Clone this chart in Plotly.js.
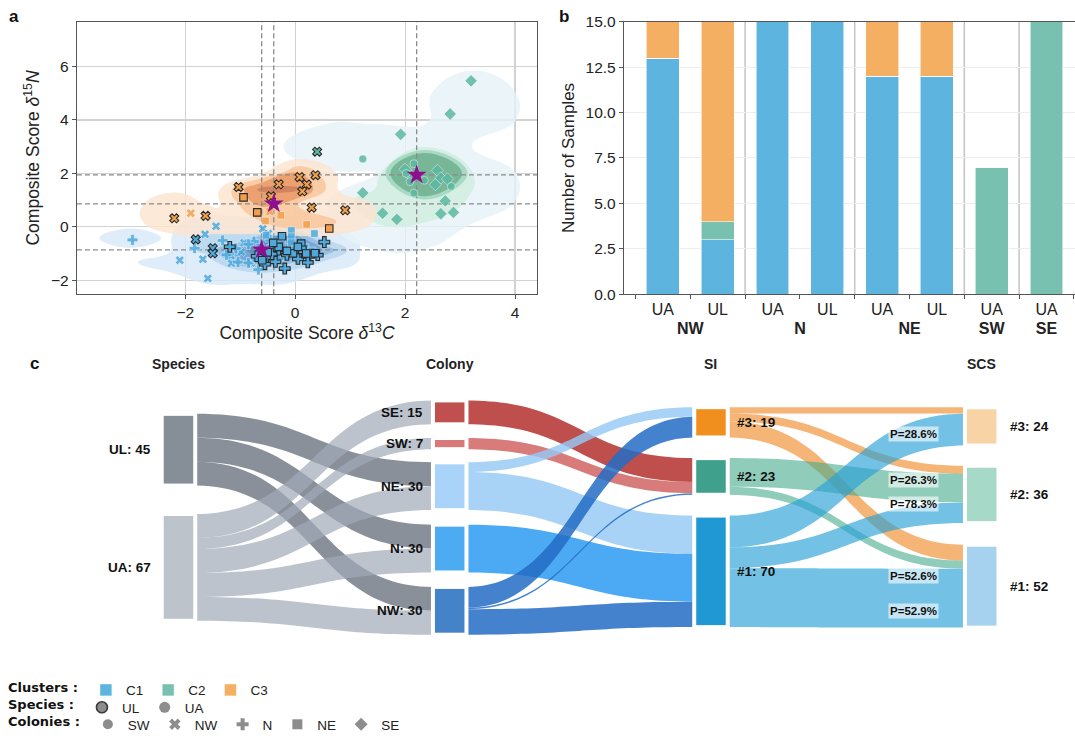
<!DOCTYPE html>
<html><head><meta charset="utf-8">
<script src="https://cdn.plot.ly/plotly-3.0.1.min.js"></script>
<style>html,body{margin:0;padding:0;background:#fff}#chart{width:1075px;height:740px}</style>
</head><body><div id="chart"></div>
<script>
// ================= DATA =================
// ---- Panel a: composite scores per colony & species (x = d13C, y = d15N), cluster of each point
const SE_UA_x = [3.2, 2.82, 1.92, 1.23, 1.59, 1.85, 2.65, 2.88, 2.73, 2.55, 2.59, 2.65, 2.77, 2.0, 2.12];
const SE_UA_y = [5.46, 4.22, 3.46, 1.27, 0.51, 0.28, 0.49, 0.54, 0.97, 1.58, 2.11, 1.83, 1.79, 2.15, 1.88];
const SE_UA_c = ['C2','C2','C2','C2','C2','C2','C2','C2','C2','C2','C2','C2','C2','C2','C2'];

const SW_UA_x = [1.23, 2.16, 2.35, 2.16, 2.84, 2.09, 2.02];
const SW_UA_y = [2.54, 2.36, 1.74, 1.26, 1.51, 1.69, 2.0];
const SW_UA_c = ['C2','C2','C2','C2','C2','C2','C2'];

const NW_UA_x = [-1.44, -1.64, -2.1, -1.68, -1.16, -1.17, -1.59, -0.98, -0.93, -0.59, -0.49, -0.8, -0.65, -1.9, -0.46];
const NW_UA_y = [0.02, -0.28, -1.25, -1.21, -1.36, -1.08, -1.93, -0.94, -0.6, -0.07, -0.25, -1.35, -0.72, 0.51, 0.57];
const NW_UA_c = ['C1','C1','C1','C1','C1','C1','C1','C1','C1','C1','C1','C1','C1','C3','C3'];

const NW_UL_x = [-1.81, -1.5, -1.5, 0.4, -2.2, -1.63, -1.03, -0.44, -0.3, 0.08, 0.37, 0.21, 0.13, 0.3, 0.91];
const NW_UL_y = [-0.47, -0.8, -0.99, 2.81, 0.32, 0.41, 1.49, 1.14, 1.59, 1.86, 1.93, 1.58, 1.33, 0.72, 0.62];
const NW_UL_c = ['C1','C1','C1','C2','C3','C3','C3','C3','C3','C3','C3','C3','C3','C3','C3'];

const N_UA_x = [-2.96, -1.32, -1.83, -1.04, -0.85, -1.08, -0.67, -0.75, -0.6, -0.85, -0.35, -0.3, -0.45, -0.2, -1.25];
const N_UA_y = [-0.49, -0.51, -0.8, -1.32, -1.35, -0.81, -1.6, -0.55, -0.85, -0.65, -0.95, -1.2, -0.5, -0.7, -1.05];
const N_UA_c = ['C1','C1','C1','C1','C1','C1','C1','C1','C1','C1','C1','C1','C1','C1','C1'];

const N_UL_x = [-1.19, -0.52, -0.36, -0.55, -0.19, -0.42, 0.25, 0.23, 0.41, 0.53, -0.3, -0.15, 0.05, -0.7, 0.15];
const N_UL_y = [-0.75, -1.15, -1.31, -1.4, -1.56, -1.02, -1.11, -1.33, -1.06, -0.57, -0.85, -1.05, -1.2, -1.1, -0.95];
const N_UL_c = ['C1','C1','C1','C1','C1','C1','C1','C1','C1','C1','C1','C1','C1','C1','C1'];

const NE_UA_x = [-0.53, -0.07, -0.07, -0.07, 0.18, 0.35, -0.72, -0.35, -0.25, 0.0, -0.45, 0.3, -0.54, -0.26, 0.21];
const NE_UA_y = [-0.32, -0.14, -0.37, -0.59, -0.78, -0.25, -1.19, -0.45, -0.65, -0.85, -0.8, -0.9, 0.22, 0.43, 0.09];
const NE_UA_c = ['C1','C1','C1','C1','C1','C1','C1','C1','C1','C1','C1','C1','C3','C3','C3'];

const NE_UL_x = [-0.24, 0.11, -0.04, 0.13, 0.36, -0.5, -0.3, -0.15, 0.2, -0.4, 0.05, -0.6, -0.94, -0.69, 0.62];
const NE_UL_y = [-0.35, -0.63, -0.99, -0.86, -0.99, -0.95, -0.75, -0.9, -1.0, -0.6, -0.75, -1.25, 1.1, 0.54, -0.06];
const NE_UL_c = ['C1','C1','C1','C1','C1','C1','C1','C1','C1','C1','C1','C1','C3','C3','C3'];

// cluster centroids (stars)
const centroidCluster = ['C1', 'C3', 'C2'];
const centroidX = [-0.61, -0.39, 2.21];
const centroidY = [-0.86, 0.86, 1.94];

// ---- Panel b: counts per colony/species and cluster
const barColony  = ['NW', 'NW', 'N', 'N', 'NE', 'NE', 'SW', 'SE'];
const barSpecies = ['UA', 'UL', 'UA', 'UL', 'UA', 'UL', 'UA', 'UA'];
const countC1 = [13, 3, 15, 15, 12, 12, 0, 0];
const countC2 = [0, 1, 0, 0, 0, 0, 7, 15];
const countC3 = [2, 11, 0, 0, 3, 3, 0, 0];

// ---- Panel c: sankey
const speciesNames = ['UL', 'UA'];
const colonyNames  = ['SE', 'SW', 'NE', 'N', 'NW'];
const siNames      = ['#3', '#2', '#1'];
const scsNames     = ['#3', '#2', '#1'];
const spColSource = ['UL', 'UL', 'UL', 'UA', 'UA', 'UA', 'UA', 'UA'];
const spColTarget = ['NE', 'N', 'NW', 'SE', 'SW', 'NE', 'N', 'NW'];
const spColValue  = [15, 15, 15, 15, 7, 15, 15, 15];
const colSiSource = ['SE', 'SW', 'NE', 'NE', 'N', 'NW', 'NW', 'NW'];
const colSiTarget = ['#2', '#2', '#3', '#1', '#1', '#3', '#2', '#1'];
const colSiValue  = [15, 7, 6, 24, 30, 13, 1, 16];
const siScsSource = ['#3', '#3', '#3', '#2', '#2', '#1', '#1', '#1'];
const siScsTarget = ['#3', '#2', '#1', '#2', '#1', '#3', '#2', '#1'];
const siScsValue  = [4, 5, 10, 18, 5, 20, 13, 37];
const siScsShowP  = [false, true, true, true, false, true, false, true];

// ================= STYLE =================
const FONT = 'Liberation Sans, Arial, sans-serif';
const barColor = {C1: '#5db4df', C2: '#78c0b0', C3: '#f4af62'};
const ptColor  = {C1: '#4ea9dd', C2: '#5cb8a1', C3: '#f2a04e'};
const symbolOf = {SE: 'diamond', SW: 'circle', NW: 'x', N: 'cross', NE: 'square'};
const sizeOf   = {SE: 9.5, SW: 8, NW: 8, N: 9, NE: 7.5};
const xRangeA = [-3.97, 4.4], yRangeA = [-2.52, 7.67];

const traces = [];

// ---- density contours (computed by plotly's histogram2dcontour)
const groups = [
  {col: 'SE', sp: 'UA', x: SE_UA_x, y: SE_UA_y, c: SE_UA_c},
  {col: 'SW', sp: 'UA', x: SW_UA_x, y: SW_UA_y, c: SW_UA_c},
  {col: 'NW', sp: 'UA', x: NW_UA_x, y: NW_UA_y, c: NW_UA_c},
  {col: 'NW', sp: 'UL', x: NW_UL_x, y: NW_UL_y, c: NW_UL_c},
  {col: 'N',  sp: 'UA', x: N_UA_x,  y: N_UA_y,  c: N_UA_c},
  {col: 'N',  sp: 'UL', x: N_UL_x,  y: N_UL_y,  c: N_UL_c},
  {col: 'NE', sp: 'UA', x: NE_UA_x, y: NE_UA_y, c: NE_UA_c},
  {col: 'NE', sp: 'UL', x: NE_UL_x, y: NE_UL_y, c: NE_UL_c}
];
function clusterPts(cl) {
  const xs = [], ys = [];
  groups.forEach(g => g.c.forEach((c, i) => { if (c === cl) { xs.push(g.x[i]); ys.push(g.y[i]); } }));
  return {xs, ys};
}
const kdeCfg = {
  C1: {xb: {start: -4.05, end: 1.9, size: 0.7}, yb: {start: -2.9, end: 1.1, size: 0.45},
       ct: {start: 0.2, end: 8.2, size: 2},
       cs: ['rgba(220,235,248,0)', 'rgba(214,232,248,0.8)', 'rgba(180,212,238,0.8)', 'rgba(140,186,226,0.8)', 'rgba(110,160,212,0.8)', 'rgba(85,138,196,0.82)']},
  C2: {xb: {start: -0.8, end: 5.2, size: 0.9}, yb: {start: -1.5, end: 7.5, size: 1.0},
       ct: {start: 0.15, end: 3.15, size: 1.0},
       cs: ['rgba(232,243,248,0)', 'rgba(230,243,247,0.8)', 'rgba(210,237,226,0.85)', 'rgba(160,213,190,0.85)', 'rgba(110,175,142,0.85)']},
  C3: {xb: {start: -3.3, end: 2.7, size: 0.75}, yb: {start: -1.3, end: 3.1, size: 0.6},
       ct: {start: 0.2, end: 2.9, size: 0.9},
       cs: ['rgba(253,232,212,0)', 'rgba(252,228,206,0.8)', 'rgba(248,196,152,0.8)', 'rgba(234,150,100,0.8)', 'rgba(205,125,92,0.82)']}
};
['C1', 'C2', 'C3'].forEach(cl => {
  const p = clusterPts(cl), k = kdeCfg[cl];
  const n = k.cs.length;
  traces.push({
    type: 'histogram2dcontour', x: p.xs, y: p.ys, xaxis: 'x', yaxis: 'y',
    xbins: k.xb, ybins: k.yb, autobinx: false, autobiny: false,
    autocontour: false, contours: {start: k.ct.start, end: k.ct.end, size: k.ct.size, coloring: 'fill'},
    colorscale: k.cs.map((c, i) => [i / (n - 1), c]),
    line: {width: 0, smoothing: 1.3}, showscale: false, hoverinfo: 'skip', showlegend: false
  });
});

// ---- centroid dashed guide lines
centroidX.forEach(cx => traces.push({type: 'scatter', mode: 'lines', x: [cx, cx], y: yRangeA,
  line: {color: '#8a8a8a', width: 1.3, dash: '5px,3px'}, hoverinfo: 'skip', showlegend: false, xaxis: 'x', yaxis: 'y'}));
centroidY.forEach(cy => traces.push({type: 'scatter', mode: 'lines', x: xRangeA, y: [cy, cy],
  line: {color: '#8a8a8a', width: 1.3, dash: '5px,3px'}, hoverinfo: 'skip', showlegend: false, xaxis: 'x', yaxis: 'y'}));

// ---- points (UA first, UL on top)
const orderedGroups = groups.filter(g => g.sp === 'UA').concat(groups.filter(g => g.sp === 'UL'));
orderedGroups.forEach(g => {
  const ul = g.sp === 'UL';
  traces.push({
    type: 'scatter', mode: 'markers', x: g.x, y: g.y, xaxis: 'x', yaxis: 'y',
    marker: {symbol: symbolOf[g.col], size: sizeOf[g.col], color: g.c.map(c => ptColor[c]),
      opacity: ul ? 1 : 0.85,
      line: {color: ul ? '#2a2a2a' : 'rgba(255,255,255,0.65)', width: ul ? 1.1 : 0.8}},
    hoverinfo: 'skip', showlegend: false
  });
});
// stars
traces.push({type: 'scatter', mode: 'markers', x: centroidX, y: centroidY, xaxis: 'x', yaxis: 'y',
  marker: {symbol: 'star', size: 15, color: '#8e0f8e', line: {width: 0}}, hoverinfo: 'skip', showlegend: false});

// ---- panel b stacked bars (also the "Clusters" legend)
const xCat = [barColony.map(c => '<b>' + c + '</b>'), barSpecies];
[['C1', countC1], ['C2', countC2], ['C3', countC3]].forEach(([cl, v]) => traces.push({
  type: 'bar', x: xCat, y: v, name: cl, xaxis: 'x2', yaxis: 'y2',
  marker: {color: barColor[cl], line: {color: 'rgba(255,255,255,0.7)', width: 0.8}},
  legend: 'legend', hoverinfo: 'skip'
}));

// ---- legend keys for species & colonies
[['UL', true], ['UA', false]].forEach(([s, edge]) => traces.push({
  type: 'scatter', mode: 'markers', x: [null], y: [null], name: s, legend: 'legend2', xaxis: 'x', yaxis: 'y',
  marker: {symbol: 'circle', size: 11, color: '#8d8d8d', line: {color: edge ? '#3a3a3a' : '#8d8d8d', width: edge ? 1.6 : 0}}
}));
['SW', 'NW', 'N', 'NE', 'SE'].forEach(c => traces.push({
  type: 'scatter', mode: 'markers', x: [null], y: [null], name: c, legend: 'legend3', xaxis: 'x', yaxis: 'y',
  marker: {symbol: symbolOf[c], size: 10, color: '#8d8d8d', line: {width: 0}}
}));

// ---- panel c sankey
const allNames = speciesNames.map(n => 'sp:' + n)
  .concat(colonyNames.map(n => 'col:' + n), siNames.map(n => 'si:' + n), scsNames.map(n => 'scs:' + n));
const idx = n => allNames.indexOf(n);
const nodeColor = ['#868e97', '#bcc3cb',
  '#c0504f', '#d97878', '#a9d3f8', '#4dabf2', '#4583c9',
  '#f18f1e', '#3fa08b', '#1f98d4',
  '#f8d3a5', '#a6d9c8', '#a6d1ef'];
const colX = [0.0331, 0.3485, 0.6523, 0.9671];
const nodeXpos = [colX[0], colX[0], colX[1], colX[1], colX[1], colX[1], colX[1], colX[2], colX[2], colX[2], colX[3], colX[3], colX[3]];
const nodeYpos = [0.210, 0.712, 0.0507, 0.1838, 0.3657, 0.6316, 0.8971, 0.0932, 0.324, 0.7288, 0.1107, 0.4007, 0.7921];
const spLinkColor  = {UL: 'rgba(104,113,124,0.78)', UA: 'rgba(160,170,182,0.7)'};
const colLinkColor = {SE: 'rgba(183,60,58,0.9)', SW: 'rgba(205,90,90,0.8)', NE: 'rgba(150,200,245,0.82)', N: 'rgba(45,155,242,0.85)', NW: 'rgba(35,108,196,0.85)'};
const siLinkColor  = {'#3': 'rgba(240,150,60,0.7)', '#2': 'rgba(70,170,140,0.6)', '#1': 'rgba(40,160,215,0.65)'};
const src = [], tgt = [], val = [], lcol = [];
spColSource.forEach((s, i) => { src.push(idx('sp:' + s)); tgt.push(idx('col:' + spColTarget[i])); val.push(spColValue[i]); lcol.push(spLinkColor[s]); });
colSiSource.forEach((s, i) => { src.push(idx('col:' + s)); tgt.push(idx('si:' + colSiTarget[i])); val.push(colSiValue[i]); lcol.push(colLinkColor[s]); });
siScsSource.forEach((s, i) => { src.push(idx('si:' + s)); tgt.push(idx('scs:' + siScsTarget[i])); val.push(siScsValue[i]); lcol.push(siLinkColor[s]); });

const skTop = 404.3, skBot = 641, skLeft = 150, skRight = 1010;
traces.push({
  type: 'sankey', arrangement: 'fixed',
  domain: {x: [skLeft / 1075, skRight / 1075], y: [1 - skBot / 740, 1 - skTop / 740]},
  node: {label: allNames.map(() => ''), color: nodeColor, x: nodeXpos, y: nodeYpos,
    pad: 14, thickness: 33.5, line: {color: '#ffffff', width: 4}, hoverinfo: 'none'},
  link: {source: src, target: tgt, value: val, color: lcol, hoverinfo: 'none'}
});

// ---- annotations
const ann = [];
const H = 740, W = 1075;
const px2x = v => v / W, px2y = v => 1 - v / H;
// panel letters
[['a', 14, 17], ['b', 564, 17], ['c', 34, 367]].forEach(([t, x, y]) => ann.push({
  text: '<b>' + t + '</b>', x: px2x(x), y: px2y(y), xref: 'paper', yref: 'paper', showarrow: false,
  xanchor: 'center', yanchor: 'middle', font: {family: FONT, size: 17, color: '#111'}}));
// sankey column titles
const colCenterPx = colX.map(c => skLeft + c * (skRight - skLeft));
['Species', 'Colony', 'SI', 'SCS'].forEach((t, i) => ann.push({
  text: '<b>' + t + '</b>', x: px2x(colCenterPx[i]), y: px2y(367), xref: 'paper', yref: 'paper', showarrow: false,
  xanchor: 'center', yanchor: 'middle', font: {family: FONT, size: 14, color: '#222'}}));
// node labels: value = max(in, out)
function nodeTotal(i) {
  let a = 0, b = 0;
  src.forEach((s, k) => { if (s === i) a += val[k]; if (tgt[k] === i) b += val[k]; });
  return Math.max(a, b);
}
const nodeYpx = i => skTop + nodeYpos[i] * (skBot - skTop);
const labelCfg = [ // [x offset px from node centre, anchor]
  [-25, 'right'], [-25, 'right'], [-25, 'right'], [-25, 'right'], [-25, 'right'], [-25, 'right'], [-25, 'right'],
  [24, 'left'], [24, 'left'], [24, 'left'], [26, 'left'], [26, 'left'], [26, 'left']];
allNames.forEach((n, i) => {
  const cx = skLeft + nodeXpos[i] * (skRight - skLeft);
  ann.push({text: '<b>' + n.split(':')[1] + ': ' + nodeTotal(i) + '</b>', x: px2x(cx + labelCfg[i][0]), y: px2y(nodeYpx(i)),
    xref: 'paper', yref: 'paper', showarrow: false, xanchor: labelCfg[i][1], yanchor: 'middle',
    font: {family: FONT, size: 13.5, color: '#111'}});
});
// P labels (share of the SI cluster going to each SCS cluster)
const pLabelYpx = [null, 485, 581, 509.3, null, 438.3, null, 616.7];
siScsSource.forEach((s, i) => {
  if (!siScsShowP[i]) return;
  const tot = siScsSource.reduce((a, ss, k) => a + (ss === s ? siScsValue[k] : 0), 0);
  ann.push({text: 'P=' + (100 * siScsValue[i] / tot).toFixed(1) + '%', x: px2x(913.8), y: px2y(pLabelYpx[i]),
    xref: 'paper', yref: 'paper', showarrow: false, xanchor: 'center', yanchor: 'middle',
    bgcolor: 'rgba(255,255,255,0.6)', borderpad: 1,
    font: {family: FONT, size: 11.5, color: '#111', weight: 'bold'}});
});

// panel b group separators
const sepShapes = [];
barColony.forEach((c, i) => {
  if (i > 0 && barColony[i - 1] !== c) sepShapes.push({type: 'line', xref: 'x2', yref: 'y2 domain',
    x0: i - 0.5, x1: i - 0.5, y0: 0, y1: 1, line: {color: '#c4c4c4', width: 1.5}, layer: 'below'});
});

const tickFont = {family: FONT, size: 15.5, color: '#222'};
const layout = {
  width: W, height: H, margin: {l: 0, r: 0, t: 0, b: 0},
  paper_bgcolor: '#fff', plot_bgcolor: '#fff', font: {family: FONT},
  barmode: 'stack', bargap: 0.4,
  xaxis: {domain: [77 / W, 537 / W], anchor: 'y', range: xRangeA, dtick: 2, tick0: 0, showgrid: true, gridcolor: '#d2d2d2', gridwidth: 1.2,
    zeroline: false, showline: true, mirror: true, linecolor: '#555', linewidth: 1.2, ticks: 'outside', ticklen: 4, tickcolor: '#555',
    tickfont: tickFont, title: {text: 'Composite Score <i>δ</i><sup>13</sup><i>C</i>', font: {family: FONT, size: 17.5, color: '#222'}, standoff: 3}},
  yaxis: {domain: [1 - 297 / H, 1 - 22 / H], anchor: 'x', range: yRangeA, dtick: 2, tick0: 0, showgrid: true, gridcolor: '#d2d2d2', gridwidth: 1.2,
    zeroline: false, showline: true, mirror: true, linecolor: '#555', linewidth: 1.2, ticks: 'outside', ticklen: 4, tickcolor: '#555',
    tickfont: tickFont, title: {text: 'Composite Score <i>δ</i><sup>15</sup><i>N</i>', font: {family: FONT, size: 17.5, color: '#222'}, standoff: 6}},
  xaxis2: {type: 'multicategory', domain: [624 / W, 1], anchor: 'y2', range: [-0.71, 7.52], showdividers: false, showgrid: false,
    showline: true, mirror: true, linecolor: '#555', linewidth: 1.2, ticks: 'outside', ticklen: 4, tickcolor: '#555',
    tickfont: {family: FONT, size: 16, color: '#222'}},
  yaxis2: {domain: [1 - 297 / H, 1 - 22 / H], anchor: 'x2', range: [0, 15], dtick: 2.5, tick0: 0, tickformat: '.1f', showgrid: true, gridcolor: '#ededed',
    zeroline: false, showline: true, linecolor: '#555', linewidth: 1.2, ticks: 'outside', ticklen: 4, tickcolor: '#555',
    tickfont: tickFont, title: {text: 'Number of Samples', font: {family: FONT, size: 17, color: '#222'}, standoff: 6}},
  shapes: sepShapes,
  annotations: ann,
  legend: {title: {text: '<b>Clusters :</b>', side: 'left', font: {family: 'DejaVu Sans', size: 13, color: '#111'}},
    orientation: 'h', x: 6 / W, xanchor: 'left', y: px2y(696.7), yanchor: 'middle', bgcolor: 'rgba(0,0,0,0)',
    font: {family: FONT, size: 13.5, color: '#222'}, itemwidth: 30, traceorder: 'normal'},
  legend2: {title: {text: '<b>Species :</b>', side: 'left', font: {family: 'DejaVu Sans', size: 13, color: '#111'}},
    orientation: 'h', x: 6 / W, xanchor: 'left', y: px2y(714.3), yanchor: 'middle', bgcolor: 'rgba(0,0,0,0)',
    font: {family: FONT, size: 13.5, color: '#222'}, itemwidth: 30, traceorder: 'normal'},
  legend3: {title: {text: '<b>Colonies :</b>', side: 'left', font: {family: 'DejaVu Sans', size: 13, color: '#111'}},
    orientation: 'h', x: 6 / W, xanchor: 'left', y: px2y(731.7), yanchor: 'middle', bgcolor: 'rgba(0,0,0,0)',
    font: {family: FONT, size: 13.5, color: '#222'}, itemwidth: 30, traceorder: 'normal'}
};

Plotly.newPlot('chart', traces, layout, {displayModeBar: false, staticPlot: true});
</script>
</body></html>
